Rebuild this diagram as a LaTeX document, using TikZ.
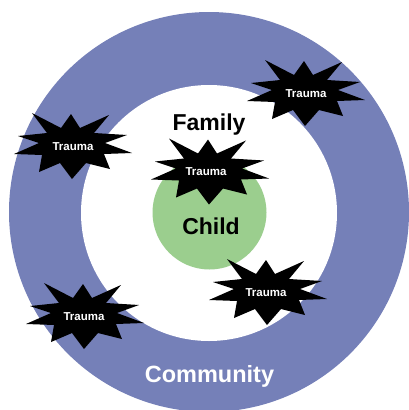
\documentclass[tikz,border=0pt]{standalone}
\usepackage{fontspec}
\setmainfont{Liberation Sans}
\definecolor{ringblue}{HTML}{7580B8}
\definecolor{childgreen}{HTML}{9BCE8E}
\tikzset{
  lbl/.style={font=\bfseries\fontsize{23}{26}\selectfont,text=black,inner sep=0pt},
  comm/.style={font=\bfseries\fontsize{23.5}{26}\selectfont,text=white,inner sep=0pt},
  tr/.style={font=\bfseries\fontsize{11.5}{13}\selectfont,text=white,inner sep=0pt},
  pics/burst/.style={code={
    \fill[black] (-40,-33)--(-11,-18)--(-1,-32)--(8,-18)--(37,-31)--(22,-13)--(55,-11)--(33,-3)--(60,7)--(32,8)--(38,23)--(14,17)--(0,33)--(-12,17)--(-33,26)--(-30,9)--(-58,8)--(-33,-3)--(-54,-10)--(-25,-13)--cycle;
  }}
}
\begin{document}
\begin{tikzpicture}[x=1pt,y=-1pt]
\useasboundingbox (0,0) rectangle (409,410);
\clip (0,0) rectangle (409,410);
\fill[ringblue] (209,212) circle[radius=200];
\fill[white] (209,213) circle[radius=128];
\fill[childgreen] (209.5,212.5) circle[radius=57];
\pic at (209,171.5) {burst};
\pic at (305,93) {burst};
\pic at (72,146) {burst};
\pic at (267,292) {burst};
\pic at (84,316) {burst};
\node[lbl] (family) at (209,124.5) {Family};
\node[lbl] (child) at (211,226) {Child};
\node[comm] (community) at (209.5,376) {Community};
\node[tr] (t1) at (206,171.5) {Trauma};
\node[tr] (t2) at (306,93.5) {Trauma};
\node[tr] (t3) at (73,146.5) {Trauma};
\node[tr] (t4) at (266,292.5) {Trauma};
\node[tr] (t5) at (84,316.5) {Trauma};
\end{tikzpicture}
\end{document}
